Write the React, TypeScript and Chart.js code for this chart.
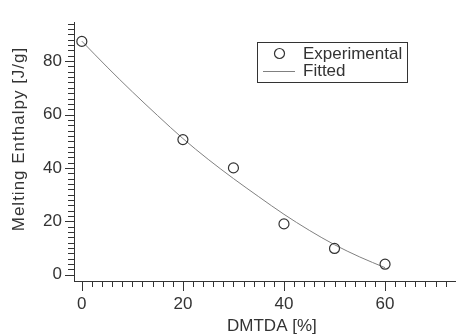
import React, { useEffect, useRef } from 'react';
import { Chart, registerables } from 'chart.js';

Chart.register(...registerables);

// ---- data ----
const expX = [0, 20, 30, 40, 50, 60];
const expY = [87.4, 50.6, 40.0, 19.0, 9.8, 3.9];

const fitX = [0, 5, 10, 15, 20, 25, 30, 35, 40, 45, 50, 55, 60];
const fitY = [87.5, 77.8, 68.5, 59.6, 51.0, 43.2, 36.0, 29.2, 22.6, 16.6, 11.2, 6.6, 2.6];

const xTickLabels = [0, 20, 40, 60];
const yTickLabels = [0, 20, 40, 60, 80];
const xMinorTicks = [0, 2, 4, 6, 8, 10, 12, 14, 16, 18, 20, 22, 24, 26, 28, 30, 32, 34, 36, 38, 40, 42, 44, 46, 48, 50, 52, 54, 56, 58, 60, 62, 64, 66, 68, 70, 72];
const yMinorTicks = [0, 2, 4, 6, 8, 10, 12, 14, 16, 18, 20, 22, 24, 26, 28, 30, 32, 34, 36, 38, 40, 42, 44, 46, 48, 50, 52, 54, 56, 58, 60, 62, 64, 66, 68, 70, 72, 74, 76, 78, 80, 82, 84, 86, 88, 90, 92, 94];

const xTitle = 'DMTDA [%]';
const yTitle = 'Melting Enthalpy [J/g]';
const seriesNames = ['Experimental', 'Fitted'];

const FONT = "'Liberation Sans', Arial, sans-serif";
const TEXT = '#333333';
const AXIS = '#333333';
const CURVE = '#808080';

const decorPlugin = {
  id: 'decor',
  afterDraw(chart: any) {
    const ctx = chart.ctx as CanvasRenderingContext2D;
    const xs = chart.scales.x;
    const ys = chart.scales.y;
    const area = chart.chartArea;
    ctx.save();
    ctx.strokeStyle = AXIS;
    ctx.lineWidth = 1;
    // x ticks
    ctx.beginPath();
    for (const v of xMinorTicks) {
      const px = Math.round(xs.getPixelForValue(v)) + 0.5;
      const len = xTickLabels.includes(v) ? 10 : 6;
      ctx.moveTo(px, area.bottom);
      ctx.lineTo(px, area.bottom + len);
    }
    for (const v of yMinorTicks) {
      const py = Math.round(ys.getPixelForValue(v)) + 0.5;
      const len = yTickLabels.includes(v) ? 9 : 6;
      ctx.moveTo(area.left, py);
      ctx.lineTo(area.left - len, py);
    }
    ctx.stroke();

    // axis titles
    ctx.fillStyle = TEXT;
    ctx.font = `17px ${FONT}`;
    ctx.textAlign = 'center';
    ctx.textBaseline = 'middle';
    ctx.fillText(xTitle, (area.left + area.right) / 2 + 7, 326);
    ctx.save();
    ctx.translate(19, 139);
    ctx.rotate(-Math.PI / 2);
    (ctx as any).letterSpacing = '1px';
    ctx.fillText(yTitle, 0, 0);
    ctx.restore();

    // legend
    const bx = 257, by = 42, bw = 150, bh = 40;
    ctx.fillStyle = '#ffffff';
    ctx.fillRect(bx, by, bw, bh);
    ctx.strokeStyle = AXIS;
    ctx.strokeRect(bx + 0.5, by + 0.5, bw, bh);
    // marker
    ctx.beginPath();
    ctx.arc(279.5, 53.5, 5, 0, Math.PI * 2);
    ctx.strokeStyle = '#333333';
    ctx.lineWidth = 1.2;
    ctx.stroke();
    // line sample
    ctx.beginPath();
    ctx.strokeStyle = CURVE;
    ctx.lineWidth = 1;
    ctx.moveTo(263, 71.5);
    ctx.lineTo(295, 71.5);
    ctx.stroke();
    ctx.fillStyle = TEXT;
    ctx.textAlign = 'left';
    ctx.textBaseline = 'middle';
    ctx.fillText(seriesNames[0], 303, 54);
    ctx.fillText(seriesNames[1], 303, 71);
    ctx.restore();
  },
};

export default function App() {
  const ref = useRef<HTMLCanvasElement | null>(null);
  useEffect(() => {
    if (!ref.current) return;
    const chart = new Chart(ref.current, {
      type: 'scatter',
      data: {
        datasets: [
          {
            label: seriesNames[1],
            data: fitX.map((x, i) => ({ x, y: fitY[i] })),
            showLine: true,
            borderColor: CURVE,
            borderWidth: 1,
            pointRadius: 0,
            cubicInterpolationMode: 'monotone',
            order: 2,
          },
          {
            label: seriesNames[0],
            data: expX.map((x, i) => ({ x, y: expY[i] })),
            showLine: false,
            pointStyle: 'circle',
            pointRadius: 5,
            pointBorderWidth: 1.2,
            pointBorderColor: '#333333',
            pointBackgroundColor: 'rgba(255,255,255,0)',
            order: 1,
          },
        ],
      },
      options: {
        animation: false,
        responsive: false,
        devicePixelRatio: 1,
        layout: { padding: { top: 13, right: 0, left: 0, bottom: 0 } },
        plugins: { legend: { display: false }, tooltip: { enabled: false } },
        scales: {
          x: {
            type: 'linear',
            min: -1.55,
            max: 74,
            afterBuildTicks: (s: any) => {
              s.ticks = xTickLabels.map((v) => ({ value: v }));
            },
            afterFit: (s: any) => {
              s.height = 53;
            },
            ticks: {
              font: { family: FONT, size: 17 },
              color: TEXT,
              padding: 13,
              autoSkip: false,
              maxRotation: 0,
            },
            grid: { display: false, drawTicks: false },
            border: { display: true, color: AXIS, width: 1 },
          },
          y: {
            type: 'linear',
            min: -2.4,
            max: 94.6,
            afterBuildTicks: (s: any) => {
              s.ticks = yTickLabels.map((v) => ({ value: v }));
            },
            afterFit: (s: any) => {
              s.width = 74;
            },
            ticks: {
              font: { family: FONT, size: 17 },
              color: TEXT,
              padding: 12,
              autoSkip: false,
            },
            grid: { display: false, drawTicks: false },
            border: { display: true, color: AXIS, width: 1 },
          },
        },
      },
      plugins: [decorPlugin],
    });
    return () => chart.destroy();
  }, []);
  return (
    <div style={{ position: 'absolute', left: 0, top: 0, width: 462, height: 334, background: '#fff' }}>
      <canvas ref={ref} width={462} height={334} />
    </div>
  );
}
